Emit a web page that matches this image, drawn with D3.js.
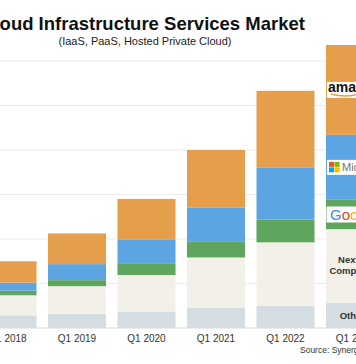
<!DOCTYPE html>
<html><head><meta charset="utf-8">
<script src="https://cdn.jsdelivr.net/npm/d3@7"></script>
<style>
html,body{margin:0;padding:0;background:#fff;overflow:hidden;}
svg{display:block;font-family:"Liberation Sans",Arial,sans-serif;}
</style></head>
<body>
<svg id="chart" width="356" height="364"></svg>
<script>
const categories = ["Q1 2018","Q1 2019","Q1 2020","Q1 2021","Q1 2022","Q1 2023"];
const seriesNames = ["Others","Next 10 Companies","Google","Microsoft","Amazon"];
const others    = [2.85, 3.2, 3.65, 4.55, 5.0, 5.7];
const next10    = [4.5, 6.2, 8.25, 11.3, 14.25, 16.5];
const google    = [1.05, 1.35, 2.5, 3.65, 5.15, 6.6];
const microsoft = [1.8, 3.6, 5.4, 7.6, 11.6, 14.6];
const amazon    = [4.8, 6.9, 9.2, 12.9, 17.3, 20.2];
const gridTicks = [10, 20, 30, 40, 50, 60];
const colors = ["#d4dee2", "#f3f0ea", "#60a55e", "#5ba6e2", "#e59e4b"];

const svg = d3.select("#chart");
const table = categories.map((c, i) => ({
  cat: c, "Others": others[i], "Next 10 Companies": next10[i],
  "Google": google[i], "Microsoft": microsoft[i], "Amazon": amazon[i]
}));

const x = d3.scaleBand().domain(categories).range([-27.25, 389.75])
  .paddingInner(0.165).paddingOuter(0.0825);
const y = d3.scaleLinear().domain([0, 70]).range([328, 16.5]);

// gridlines
svg.append("g").selectAll("line").data(gridTicks).join("line")
  .attr("x1", 0).attr("x2", 356)
  .attr("y1", d => y(d)).attr("y2", d => y(d))
  .attr("stroke", "#ebebeb").attr("stroke-width", 1);

const stack = d3.stack().keys(seriesNames)(table);
svg.append("g").selectAll("g").data(stack).join("g")
  .attr("fill", (d, i) => colors[i])
  .selectAll("rect").data(d => d).join("rect")
  .attr("x", d => x(d.data.cat))
  .attr("width", x.bandwidth())
  .attr("y", d => y(d[1]))
  .attr("height", d => y(d[0]) - y(d[1]));

// baseline
svg.append("line").attr("x1", 0).attr("x2", 356)
  .attr("y1", y(0)).attr("y2", y(0)).attr("stroke", "#d9d9d9");

// x axis
const ax = svg.append("g").attr("transform", `translate(0,${y(0)})`)
  .call(d3.axisBottom(x).tickSize(0).tickPadding(7));
ax.select(".domain").remove();
ax.selectAll("text").attr("font-size", 10).attr("fill", "#333")
  .attr("font-family", "Liberation Sans, Arial, sans-serif");

// title
svg.append("text").attr("x", 143).attr("y", 30).attr("text-anchor", "middle")
  .attr("font-size", 18.5).attr("font-weight", "bold").attr("fill", "#111")
  .text("Cloud Infrastructure Services Market");
svg.append("text").attr("x", 145).attr("y", 45).attr("text-anchor", "middle")
  .attr("font-size", 11).attr("fill", "#222")
  .text("(IaaS, PaaS, Hosted Private Cloud)");

// labels inside last bar
const last = stack.map(s => s[s.length - 1]);
const cx = x(categories[categories.length - 1]) + x.bandwidth() / 2;
const mid = k => (y(last[k][0]) + y(last[k][1])) / 2;

// Amazon logo
const ga = svg.append("g");
ga.append("rect").attr("x", cx - 28).attr("y", mid(4) - 8).attr("width", 56).attr("height", 16).attr("fill", "#fff");
ga.append("text").attr("x", cx - 27).attr("y", mid(4) + 2).attr("font-size", 14).attr("font-weight", "bold")
  .attr("fill", "#111").attr("font-family", "Liberation Sans, Arial, sans-serif").text("amazon");
ga.append("path").attr("d", `M${cx - 24},${mid(4) + 4} Q${cx - 10},${mid(4) + 8} ${cx + 4},${mid(4) + 4}`)
  .attr("fill", "none").attr("stroke", "#e59e4b").attr("stroke-width", 1.5);

// Microsoft logo
const gm = svg.append("g");
const my = mid(3);
gm.append("rect").attr("x", cx - 28).attr("y", my - 7.5).attr("width", 56).attr("height", 15).attr("fill", "#fff");
[["#f25022", 0, 0], ["#7fba00", 5.5, 0], ["#00a4ef", 0, 5.5], ["#ffb900", 5.5, 5.5]].forEach(([c, dx, dy]) => {
  gm.append("rect").attr("x", cx - 26 + dx).attr("y", my - 5.5 + dy).attr("width", 5).attr("height", 5).attr("fill", c);
});
gm.append("text").attr("x", cx - 13).attr("y", my + 4).attr("font-size", 11).attr("fill", "#737373").text("Microsoft");

// Google logo
const gg = svg.append("g");
const gy = mid(2);
gg.append("rect").attr("x", cx - 28.5).attr("y", gy - 8).attr("width", 57).attr("height", 16).attr("fill", "#fff");
const gt = gg.append("text").attr("x", cx - 25).attr("y", gy + 5).attr("font-size", 15);
[["G", "#4285f4"], ["o", "#ea4335"], ["o", "#fbbc05"], ["g", "#4285f4"], ["l", "#34a853"], ["e", "#ea4335"]]
  .forEach(([ch, c]) => gt.append("tspan").attr("fill", c).text(ch));

// Next 10 Companies
const ny = mid(1);
svg.append("text").attr("x", cx).attr("y", ny - 3).attr("text-anchor", "middle").attr("font-size", 9.5)
  .attr("font-weight", "bold").attr("fill", "#333").text("Next 10");
svg.append("text").attr("x", cx).attr("y", ny + 8).attr("text-anchor", "middle").attr("font-size", 9.5)
  .attr("font-weight", "bold").attr("fill", "#333").text("Companies");
svg.append("text").attr("x", cx).attr("y", mid(0) + 4).attr("text-anchor", "middle").attr("font-size", 9.5)
  .attr("font-weight", "bold").attr("fill", "#333").text("Others");

// source
svg.append("text").attr("x", 300).attr("y", 353).attr("font-size", 8.5).attr("fill", "#333")
  .text("Source: Synergy Research Group");
</script>
</body></html>
